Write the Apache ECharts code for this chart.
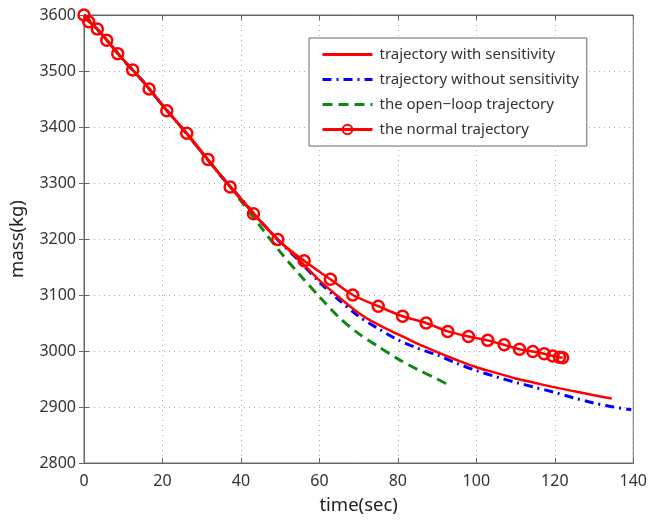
<!DOCTYPE html>
<html>
<head>
<meta charset="utf-8">
<script src="https://cdn.jsdelivr.net/npm/echarts@6/dist/echarts.min.js"></script>
<style>
  html, body { margin: 0; padding: 0; background: #fff; }
  #chart { width: 650px; height: 520px; }
</style>
</head>
<body>
<div id="chart"></div>
<script>
// time (sec) / mass (kg)
const timeSens = [0, 5, 10, 15, 20, 25, 30, 35, 40, 45, 50, 55, 60, 65, 70, 75, 80, 85, 90, 95, 100, 105, 110, 115, 120, 125, 130, 134.5]
const massSens = [3600, 3562, 3520, 3482, 3439, 3398, 3355, 3312, 3272, 3232, 3195, 3162, 3126, 3096, 3068, 3047, 3030, 3013, 2998, 2984, 2971, 2961, 2951, 2943, 2935, 2928, 2921, 2915]

const timeNoSens = [0, 5, 10, 15, 20, 25, 30, 35, 40, 45, 50, 55, 60, 65, 70, 75, 80, 85, 90, 95, 100, 105, 110, 115, 120, 125, 130, 135, 139.5]
const massNoSens = [3600, 3562, 3520, 3482, 3439, 3398, 3355, 3312, 3272, 3232, 3194, 3160, 3123, 3091, 3062, 3040, 3020, 3005, 2993, 2978, 2965, 2954, 2944, 2935, 2926, 2916, 2907, 2900, 2895]

const timeOpen = [0, 5, 10, 15, 20, 25, 30, 35, 38, 40, 45, 50, 55, 60, 65, 70, 75, 80, 85, 90, 93]
const massOpen = [3600, 3562, 3520, 3482, 3439, 3398, 3355, 3312, 3287, 3268, 3222, 3177, 3136, 3097, 3060, 3031, 3008, 2986, 2967, 2950, 2939]

const timeNormal = [0, 1.2, 3.4, 5.8, 8.6, 12.4, 16.6, 21.1, 26.2, 31.6, 37.25, 43.2, 49.4, 56.1, 62.8, 68.5, 75, 81.2, 87.2, 92.7, 98, 102.9, 107.1, 111, 114.4, 117.3, 119.5, 121.2, 122]
const massNormal = [3600, 3588, 3575, 3555, 3531, 3502, 3468, 3429, 3389, 3342, 3293, 3245, 3199, 3161, 3128, 3100, 3080, 3062, 3050, 3035, 3026, 3019, 3011, 3003, 2999, 2995, 2991, 2989, 2988]

const xTicks = { min: 0, max: 140, interval: 20 }
const yTicks = { min: 2800, max: 3600, interval: 100 }

const seriesNames = ['trajectory with sensitivity', 'trajectory without sensitivity', 'the open\u2212loop trajectory', 'the normal trajectory']

function pairs(t, m) {
  return t.map((v, i) => [v, m[i]])
}

const chart = echarts.init(document.getElementById('chart'))

const labelStyle = { color: '#333', fontSize: 16, fontFamily: 'Noto Sans' }
const nameStyle = { color: '#222', fontSize: 18.5, fontFamily: 'Noto Sans' }
const gridLine = { show: true, lineStyle: { type: [1, 4], color: '#aaa', width: 1 } }
const frameLine = { show: true, lineStyle: { color: '#666' } }
const inTick = { inside: true, length: 5, lineStyle: { color: '#666' } }
// line-only entries: hide the marker ECharts puts in the legend icon
const noMarker = { opacity: 0 }

chart.setOption({
  animation: false,
  grid: {
    left: 83, right: 14, top: 15, bottom: 53,
    show: true, borderColor: '#666', borderWidth: 1
  },
  legend: {
    orient: 'vertical',
    left: 309, top: 38,
    itemWidth: 50, itemHeight: 12, itemGap: 10,
    padding: [9, 8, 9, 12],
    borderColor: '#666', borderWidth: 1,
    backgroundColor: '#fff',
    textStyle: { color: '#333', fontSize: 15, fontFamily: 'Noto Sans', padding: [0, 0, 0, 2] },
    data: [
      { name: seriesNames[0], itemStyle: noMarker, lineStyle: { width: 3 } },
      { name: seriesNames[1], itemStyle: noMarker, lineStyle: { width: 3 } },
      { name: seriesNames[2], itemStyle: noMarker, lineStyle: { width: 3 } },
      { name: seriesNames[3], lineStyle: { width: 3 } }
    ]
  },
  xAxis: [{
    type: 'value', ...xTicks,
    name: 'time(sec)', nameLocation: 'middle', nameGap: 33,
    nameTextStyle: nameStyle,
    axisLine: frameLine, axisTick: inTick,
    axisLabel: { ...labelStyle, margin: 10 },
    splitLine: gridLine
  }, {
    type: 'value', position: 'top', ...xTicks,
    axisLine: frameLine, axisTick: inTick,
    axisLabel: { show: false }, splitLine: { show: false }
  }],
  yAxis: [{
    type: 'value', ...yTicks,
    name: 'mass(kg)', nameLocation: 'middle', nameGap: 57,
    nameTextStyle: nameStyle,
    axisLine: frameLine, axisTick: inTick,
    axisLabel: { ...labelStyle, margin: 8, formatter: v => String(v) },
    splitLine: gridLine
  }, {
    type: 'value', position: 'right', ...yTicks,
    axisLine: frameLine, axisTick: inTick,
    axisLabel: { show: false }, splitLine: { show: false }
  }],
  series: [
    {
      name: seriesNames[0], type: 'line', smooth: 0.3,
      showSymbol: false, symbol: 'none', color: '#ff0000',
      lineStyle: { width: 2.5, color: '#ff0000' },
      data: pairs(timeSens, massSens), z: 3
    },
    {
      name: seriesNames[1], type: 'line', smooth: 0.3,
      showSymbol: false, symbol: 'none', color: '#0000ff',
      lineStyle: { width: 3, color: '#0000ff', type: [9, 5, 2, 5] },
      data: pairs(timeNoSens, massNoSens), z: 2
    },
    {
      name: seriesNames[2], type: 'line', smooth: 0.3,
      showSymbol: false, symbol: 'none', color: '#118811',
      lineStyle: { width: 3, color: '#118811', type: [10, 6] },
      data: pairs(timeOpen, massOpen), z: 1
    },
    {
      name: seriesNames[3], type: 'line', smooth: 0.3,
      symbol: 'circle', symbolSize: 11, color: '#ff0000',
      itemStyle: { color: 'rgba(255,255,255,0)', borderColor: '#ff0000', borderWidth: 2.5 },
      lineStyle: { width: 2.5, color: '#ff0000' },
      data: pairs(timeNormal, massNormal), z: 4
    }
  ]
})
</script>
</body>
</html>
